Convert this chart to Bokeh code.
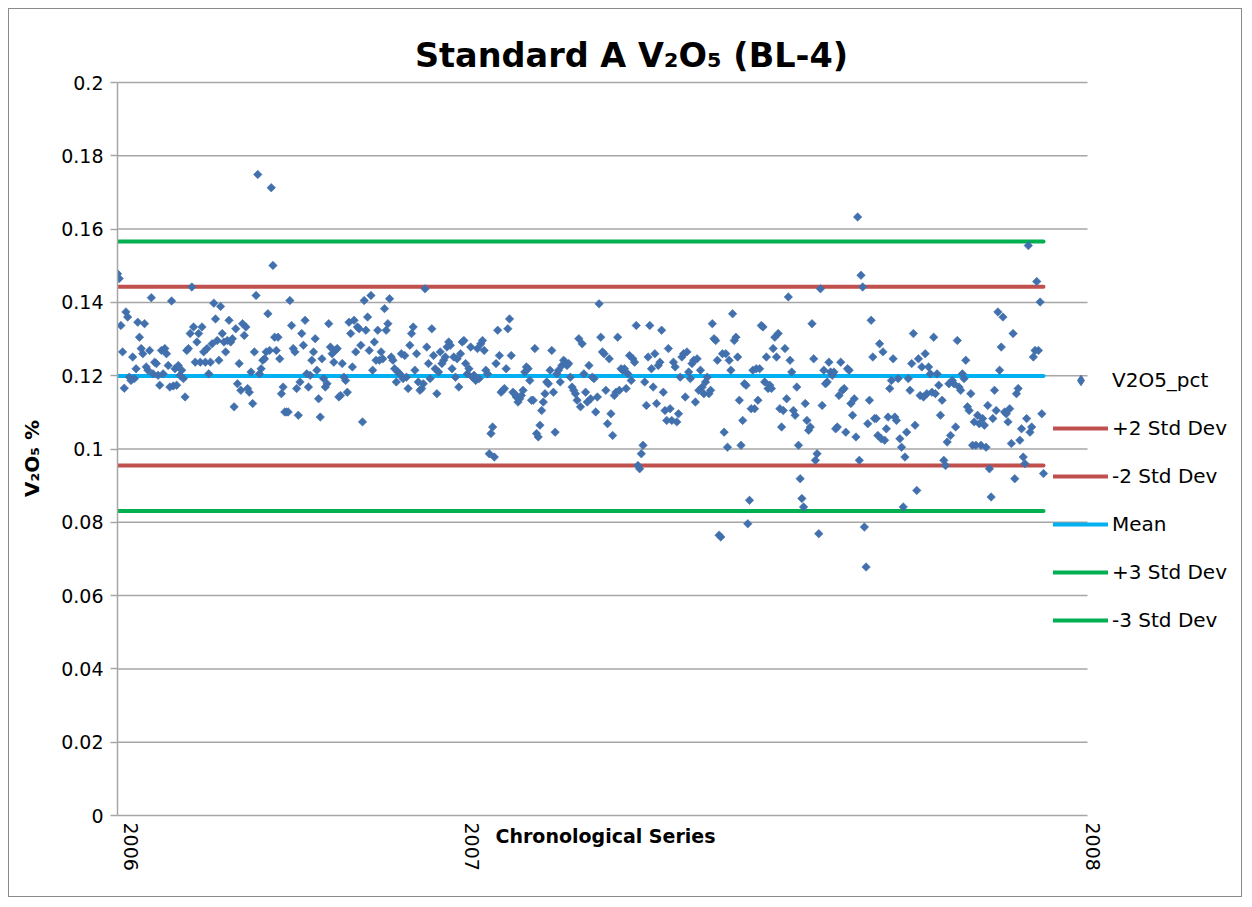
import numpy as np
from bokeh.plotting import figure
from bokeh.models import Range1d, FixedTicker, Legend, LegendItem, Label
from bokeh.core.properties import value
from bokeh.embed import file_html
from bokeh.resources import INLINE

# ---------------- data ----------------
v2o5_pct = [
    # early 2006
    0.1478, 0.1465, 0.1337, 0.1265, 0.1166, 0.1374, 0.1360, 0.1196, 0.1187, 0.1251,
    0.1192, 0.1219, 0.1346, 0.1305, 0.1274, 0.1260, 0.1342, 0.1224, 0.1215, 0.1269,
    0.1413, 0.1205, 0.1237, 0.1233, 0.1201, 0.1174, 0.1269, 0.1205, 0.1274, 0.1260,
    0.1228, 0.1169, 0.1404, 0.1172, 0.1219, 0.1174, 0.1228, 0.1201, 0.1215, 0.1192,
    0.1142, 0.1269, 0.1274, 0.1315, 0.1442, 0.1333, 0.1237, 0.1292, 0.1315, 0.1237,
    0.1333, 0.1265, 0.1237, 0.1274, 0.1205, 0.1237, 0.1287, 0.1398, 0.1355, 0.1296,
    0.1242, 0.1389, 0.1315, 0.1292, 0.1265, 0.1296, 0.1351,
    # mid 2006
    0.1292, 0.1301, 0.1115, 0.1328, 0.1178, 0.1233, 0.1160, 0.1342, 0.1310, 0.1333,
    0.1165, 0.1155, 0.1210, 0.1124, 0.1265, 0.1419, 0.1749, 0.1205, 0.1219, 0.1242,
    0.1246, 0.1265, 0.1369, 0.1269, 0.1713, 0.1501, 0.1305, 0.1269, 0.1305, 0.1246,
    0.1151, 0.1169, 0.1101, 0.1101, 0.1101, 0.1405, 0.1337, 0.1274, 0.1265, 0.1165,
    0.1092, 0.1183, 0.1315, 0.1283, 0.1351, 0.1205, 0.1169, 0.1201, 0.1242, 0.1265,
    0.1301, 0.1215, 0.1137, 0.1087, 0.1246, 0.1192, 0.1169, 0.1178, 0.1342, 0.1278,
    0.1260, 0.1237, 0.1269, 0.1274, 0.1142, 0.1146, 0.1233, 0.1196, 0.1187, 0.1155,
    0.1346, 0.1315,
    # late 2006
    0.1224, 0.1351, 0.1265, 0.1333, 0.1328, 0.1283, 0.1074, 0.1405, 0.1324, 0.1360,
    0.1269, 0.1419, 0.1215, 0.1292, 0.1242, 0.1324, 0.1242, 0.1265, 0.1246, 0.1383,
    0.1324, 0.1342, 0.1410, 0.1251, 0.1242, 0.1219, 0.1183, 0.1210, 0.1205, 0.1260,
    0.1192, 0.1255, 0.1196, 0.1165, 0.1283, 0.1315, 0.1333, 0.1215, 0.1260, 0.1183,
    0.1160, 0.1165, 0.1178, 0.1437, 0.1278, 0.1233, 0.1192, 0.1328, 0.1255, 0.1219,
    0.1151, 0.1210, 0.1265, 0.1233, 0.1242, 0.1251, 0.1278, 0.1292, 0.1283, 0.1219,
    0.1251, 0.1196, 0.1246, 0.1169, 0.1260, 0.1292, 0.1296, 0.1233, 0.1205, 0.1219,
    0.1278,
    # early 2007
    0.1196, 0.1201, 0.1187, 0.1274, 0.1192, 0.1287, 0.1296, 0.1269, 0.1215, 0.1205,
    0.0987, 0.1042, 0.1060, 0.0978, 0.1233, 0.1324, 0.1255, 0.1155, 0.1160, 0.1165,
    0.1219, 0.1328, 0.1355, 0.1255, 0.1155, 0.1151, 0.1142, 0.1128, 0.1137, 0.1146,
    0.1160, 0.1210, 0.1224, 0.1219, 0.1187, 0.1133, 0.1133, 0.1274, 0.1042, 0.1033,
    0.1065, 0.1105, 0.1128, 0.1151, 0.1183, 0.1178, 0.1215, 0.1269, 0.1155, 0.1046,
    0.1205, 0.1215, 0.1183, 0.1228, 0.1242, 0.1237, 0.1228, 0.1233, 0.1196, 0.1169,
    0.1160, 0.1151, 0.1133, 0.1301, 0.1115, 0.1287, 0.1205, 0.1155,
    # spring 2007
    0.1128, 0.1228, 0.1137, 0.1196, 0.1192, 0.1101, 0.1142, 0.1396, 0.1305, 0.1265,
    0.1260, 0.1160, 0.1069, 0.1246, 0.1096, 0.1037, 0.1146, 0.1155, 0.1305, 0.1160,
    0.1219, 0.1215, 0.1219, 0.1165, 0.1205, 0.1255, 0.1187, 0.1246, 0.1237, 0.1337,
    0.0955, 0.0946, 0.0987, 0.1010, 0.1183, 0.1119, 0.1251, 0.1337, 0.1219, 0.1169,
    0.1260, 0.1124, 0.1228, 0.1237, 0.1324, 0.1155, 0.1105, 0.1078, 0.1274, 0.1110,
    0.1078, 0.1237, 0.1224, 0.1074, 0.1096, 0.1196, 0.1251, 0.1260, 0.1142, 0.1265,
    0.1210, 0.1192, 0.1233, 0.1242, 0.1128, 0.1246, 0.1160, 0.1215, 0.1169, 0.1151,
    0.1183,
    # summer 2007
    0.1196, 0.1151, 0.1160, 0.1342, 0.1301, 0.1296, 0.1242, 0.0765, 0.0760, 0.1260,
    0.1046, 0.1260, 0.1005, 0.1242, 0.1215, 0.1369, 0.1296, 0.1305, 0.1251, 0.1133,
    0.1010, 0.1078, 0.1178, 0.1174, 0.0796, 0.0860, 0.1110, 0.1215, 0.1110, 0.1219,
    0.1133, 0.1219, 0.1337, 0.1333, 0.1183, 0.1251, 0.1165, 0.1174, 0.1165, 0.1274,
    0.1305, 0.1251, 0.1315, 0.1110, 0.1060, 0.1105, 0.1274, 0.1137, 0.1415, 0.1242,
    0.1210, 0.1105, 0.1092, 0.1169, 0.1010, 0.0919, 0.0865, 0.0842, 0.1124, 0.1078,
    0.1051, 0.1060, 0.1342, 0.1246, 0.0969, 0.0987, 0.0769, 0.1437, 0.1119, 0.1215,
    0.1178,
    # autumn 2007
    0.1183, 0.1237, 0.1210, 0.1201, 0.1210, 0.1055, 0.1060, 0.1146, 0.1237, 0.1160,
    0.1165, 0.1046, 0.1219, 0.1215, 0.1124, 0.1092, 0.1137, 0.1033, 0.1633, 0.0969,
    0.1474, 0.1442, 0.0787, 0.0678, 0.1069, 0.1133, 0.1351, 0.1251, 0.1083, 0.1083,
    0.1037, 0.1287, 0.1028, 0.1265, 0.1024, 0.1055, 0.1087, 0.1165, 0.1187, 0.1246,
    0.1087, 0.1078, 0.1192, 0.1028, 0.1005, 0.0842, 0.0978, 0.1046, 0.1192, 0.1160,
    0.1233, 0.1315, 0.1065, 0.0887, 0.1246, 0.1146, 0.1224, 0.1142, 0.1260, 0.1151,
    0.1224, 0.1205, 0.1155, 0.1305, 0.1151, 0.1205, 0.1174, 0.1092, 0.1133, 0.0969,
    0.0955, 0.1019, 0.1178,
    # end 2007
    0.1037, 0.1187, 0.1178, 0.1060, 0.1296, 0.1169, 0.1160, 0.1205, 0.1192, 0.1242,
    0.1115, 0.1105, 0.1151, 0.1010, 0.1074, 0.1010, 0.1092, 0.1069, 0.1010, 0.1083,
    0.1065, 0.1005, 0.1119, 0.0946, 0.0869, 0.1083, 0.1160, 0.1105, 0.1374, 0.1215,
    0.1278, 0.1360, 0.1101, 0.1096, 0.1074, 0.1110, 0.1015, 0.1315, 0.0919, 0.1151,
    0.1165, 0.1024, 0.1055, 0.0978, 0.0960, 0.1083, 0.1555, 0.1046, 0.1060, 0.1251,
    0.1269, 0.1457, 0.1269, 0.1401, 0.1096, 0.0933,
]

control_names = ["+2 Std Dev", "-2 Std Dev", "Mean", "+3 Std Dev", "-3 Std Dev"]
control_values = [0.1443, 0.0955, 0.1199, 0.1566, 0.0831]
control_colors = ["#C0504D", "#C0504D", "#00B0F0", "#00B050", "#00B050"]

y_ticks = [0.0, 0.02, 0.04, 0.06, 0.08, 0.1, 0.12, 0.14, 0.16, 0.18, 0.2]
y_tick_labels = ["0", "0.02", "0.04", "0.06", "0.08", "0.1", "0.12", "0.14", "0.16", "0.18", "0.2"]
year_labels = ["2006", "2007", "2008"]

# ---------------- layout (pixel geometry of the chart) ----------------
N = len(v2o5_pct)
x_idx = list(range(N))
W, H = 1234, 889                 # canvas (inside the 1px border, 8px page margin)
ABOVE, BELOW = 55, 74             # frame px above 0.2 and below 0
PLOT_W, PLOT_H = 970, 733         # the value area (0..0.2, 2006..2008)
LEFT, RIGHT_PAD, BOTTOM_PAD = 108, 3, 9
TOP_PAD = H - BOTTOM_PAD - BELOW - PLOT_H - ABOVE
FW = W - LEFT - RIGHT_PAD        # frame width in px
DATA_W = 926                      # px covered by the samples

px_per_x = DATA_W / (N - 1)
px_per_y = PLOT_H / 0.2
x_axis_end = PLOT_W / px_per_x
x_range = Range1d(0, FW / px_per_x)
y_range = Range1d(-BELOW / px_per_y, 0.2 + ABOVE / px_per_y)
year_x = [13 / px_per_x, 354 / px_per_x, 975 / px_per_x]

FONT = "DejaVu Sans"
GRID = "#a6a6a6"
BLUE = "#4170AD"

p = figure(width=W, height=H, output_backend="svg", toolbar_location=None,
           title=None, x_axis_type=None, x_range=x_range, y_range=y_range,
           min_border_left=LEFT, min_border_right=RIGHT_PAD,
           min_border_top=TOP_PAD, min_border_bottom=BOTTOM_PAD)
p.styles = {"border": "1px solid #8a8a8a", "margin": "8px"}
p.outline_line_color = None
p.background_fill_color = "white"
p.border_fill_color = "white"
p.grid.visible = False

# horizontal gridlines (value area only) incl. the category axis line at 0
p.segment(x0=[0] * len(y_ticks), x1=[x_axis_end] * len(y_ticks),
          y0=y_ticks, y1=y_ticks, line_color=GRID, line_width=1.5)

yax = p.yaxis[0]
yax.bounds = (0, 0.2)
yax.ticker = FixedTicker(ticks=y_ticks)
yax.major_label_overrides = dict(zip(y_ticks, y_tick_labels))
yax.axis_line_color = GRID
yax.axis_line_width = 1.5
yax.major_tick_line_color = GRID
yax.major_tick_line_width = 1.5
yax.major_tick_out = 7
yax.major_tick_in = 0
yax.minor_tick_line_color = None
yax.major_label_standoff = 7
yax.major_label_text_font = FONT
yax.major_label_text_font_size = "19px"
yax.major_label_text_color = "black"
yax.axis_label = "V\u2082O\u2085 %"
yax.axis_label_text_font = FONT
yax.axis_label_text_font_style = "bold"
yax.axis_label_text_font_size = "20px"
yax.axis_label_text_color = "black"
yax.axis_label_standoff = 14

# category axis labels (rotated, reading downward)
p.text(x=year_x, y=[0, 0, 0], text=year_labels, angle=-np.pi / 2,
       text_align="left", text_baseline="middle", y_offset=7,
       text_font=value(FONT), text_font_size="19px", text_color="black")

# control lines
line_renderers = []
for name, val, col in zip(control_names, control_values, control_colors):
    r = p.line([0, N - 1], [val, val], line_color=col, line_width=4, line_cap="round")
    line_renderers.append(r)

# legend proxy: an ordinary diamond under the first sample (hidden by it)
legend_marker = p.scatter(x=x_idx[:1], y=v2o5_pct[:1], marker="diamond", size=9,
                          fill_color=BLUE, line_color=BLUE)
# samples (diamonds)
p.scatter(x_idx, v2o5_pct, marker="square", angle=np.pi / 4, size=6,
          fill_color=BLUE, line_color=BLUE, line_width=0.6)

items = [LegendItem(label="V2O5_pct", renderers=[legend_marker])]
for name, r in zip(control_names, line_renderers):
    items.append(LegendItem(label=name, renderers=[r]))
legend = Legend(items=items, location=(936, 256), padding=0, margin=0,
                glyph_width=55, glyph_height=26, label_height=26, spacing=22,
                label_standoff=4, label_text_font=FONT, label_text_font_size="20px",
                label_text_color="black", border_line_color=None,
                background_fill_alpha=0)
p.add_layout(legend)

p.add_layout(Label(x=514, y=BELOW + PLOT_H + 27, x_units="screen", y_units="screen",
                   text="Standard A V\u2082O\u2085 (BL-4)", text_align="center",
                   text_baseline="middle", text_font=FONT, text_font_style="bold",
                   text_font_size="33.5px", text_color="black"))
p.add_layout(Label(x=488, y=BELOW - 20, x_units="screen", y_units="screen",
                   text="Chronological Series", text_align="center",
                   text_baseline="middle", text_font=FONT, text_font_style="bold",
                   text_font_size="19px", text_color="black"))

open("out.html", "w").write(file_html(p, INLINE))
